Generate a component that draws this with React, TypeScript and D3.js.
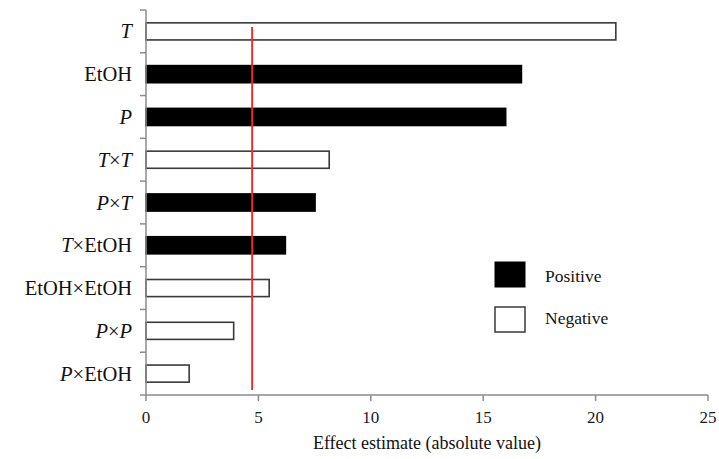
import React from 'react'
import * as d3 from 'd3'

// factors, top to bottom
const factors = ['T', 'EtOH', 'P', 'T×T', 'P×T', 'T×EtOH', 'EtOH×EtOH', 'P×P', 'P×EtOH']
// absolute effect estimates
const effects = [20.9, 16.7, 16.0, 8.15, 7.52, 6.2, 5.48, 3.9, 1.92]
// sign of the effect
const signs = ['neg', 'pos', 'pos', 'neg', 'pos', 'pos', 'neg', 'neg', 'neg']
const xTicks = [0, 5, 10, 15, 20, 25]
const threshold = 4.72

const W = 719
const H = 459
const margin = { top: 10, right: 11, bottom: 64, left: 146 }
const serif = { fontFamily: 'Times New Roman' }
const axisColor = '#8c8c8c'

// italicise the single-letter variables
const Label = ({ name }: { name: string }) => {
  const parts = name.split('×')
  const out: any[] = []
  parts.forEach((p, i) => {
    if (i > 0) out.push(<tspan key={'x' + i}>×</tspan>)
    out.push(
      <tspan key={'p' + i} fontStyle={p === 'T' || p === 'P' ? 'italic' : 'normal'}>
        {p}
      </tspan>
    )
  })
  return out
}

const App = () => {
  const x = d3
    .scaleLinear()
    .domain([0, 25])
    .range([margin.left, W - margin.right])

  const y = d3
    .scaleBand()
    .domain(factors)
    .range([margin.top, H - margin.bottom])
    .paddingInner(0.6)
    .paddingOuter(0.3)

  const y0 = margin.top
  const y1 = H - margin.bottom
  const step = y.step()
  const yTicks = d3.range(factors.length + 1).map((i) => y0 + i * step)

  return (
    <svg width={W} height={H} style={{ position: 'absolute', left: 0, top: 0, background: '#fff' }}>
      {/* bars */}
      {factors.map((f, i) => (
        <rect
          key={f}
          x={x(0)}
          y={y(f)}
          width={x(effects[i]) - x(0)}
          height={y.bandwidth()}
          fill={signs[i] === 'pos' ? '#000' : '#fff'}
          stroke={signs[i] === 'pos' ? '#000' : '#3a3a3a'}
          strokeWidth={1.6}
        />
      ))}

      {/* axes */}
      <line x1={x(0)} x2={x(0)} y1={y0} y2={y1} stroke={axisColor} strokeWidth={1.5} />
      {yTicks.map((t, i) => (
        <line key={i} x1={x(0) - 6} x2={x(0)} y1={t} y2={t} stroke={axisColor} strokeWidth={1.5} />
      ))}
      <line x1={x(0)} x2={x(25)} y1={y1} y2={y1} stroke={axisColor} strokeWidth={1.5} />
      {xTicks.map((t) => (
        <line key={t} x1={x(t)} x2={x(t)} y1={y1} y2={y1 + 6} stroke={axisColor} strokeWidth={1.5} />
      ))}
      {xTicks.map((t) => (
        <text key={'l' + t} x={x(t)} y={y1 + 28} textAnchor="middle" fontSize={17} fill="#1a1a1a" style={serif}>
          {t}
        </text>
      ))}

      {/* category labels */}
      {factors.map((f) => (
        <text
          key={f}
          x={132}
          y={(y(f) as number) + y.bandwidth() / 2 + 7}
          textAnchor="end"
          fontSize={20.5}
          fill="#111"
          style={serif}
        >
          <Label name={f} />
        </text>
      ))}

      {/* threshold line */}
      <line x1={x(threshold)} x2={x(threshold)} y1={27} y2={390} stroke="#ff2020" strokeWidth={1.8} />

      <text x={(x(0) + x(25)) / 2} y={449} textAnchor="middle" fontSize={18} fill="#111" style={serif}>
        Effect estimate (absolute value)
      </text>

      {/* legend */}
      <rect x={495} y={262} width={30} height={25} fill="#000" stroke="#000" />
      <text x={545} y={282} fontSize={17.5} fill="#111" style={serif}>
        Positive
      </text>
      <rect x={495} y={307} width={30} height={25} fill="#fff" stroke="#3a3a3a" strokeWidth={1.5} />
      <text x={545} y={324} fontSize={17.5} fill="#111" style={serif}>
        Negative
      </text>
    </svg>
  )
}

export default App
